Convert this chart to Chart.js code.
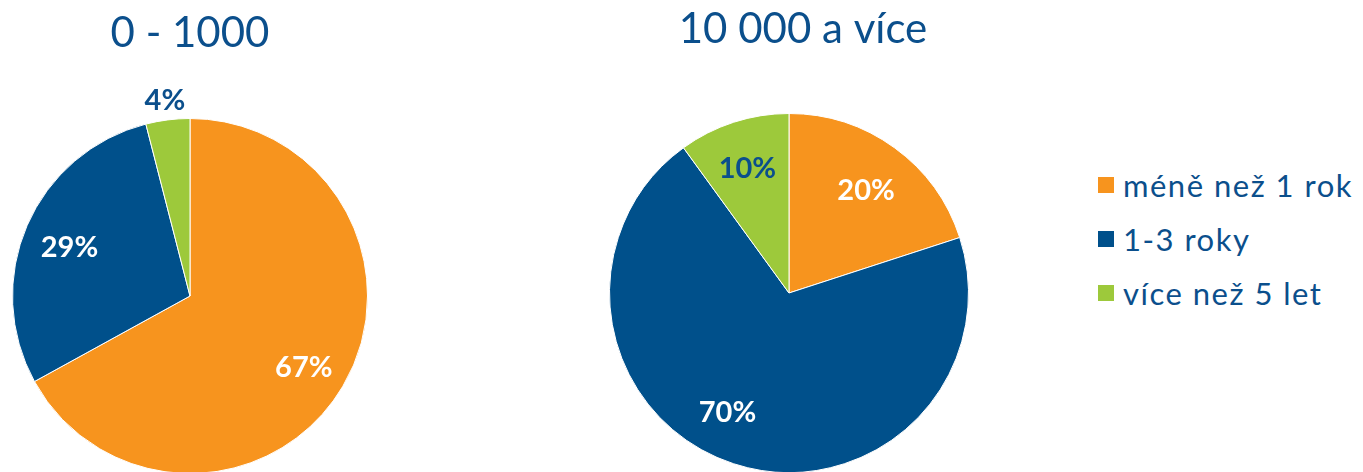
<!DOCTYPE html>
<html>
<head>
<meta charset="utf-8">
<script src="https://cdn.jsdelivr.net/npm/chart.js@4"></script>
<style>
  html, body { margin: 0; padding: 0; width: 1363px; height: 472px; overflow: hidden; background: #fff; }
  .box { position: absolute; top: 0; }
  #legend { position: absolute; left: 1098px; top: 158px; font-family: 'Lato', 'DejaVu Sans', sans-serif; font-size: 31px; letter-spacing: 1.5px; color: #0b4f8c; }
  #legend .item { display: flex; align-items: center; height: 54px; white-space: nowrap; }
  #legend .sw { width: 16px; height: 16px; margin-right: 9px; flex: none; }
</style>
</head>
<body>
<div class="box" style="left:0;width:380px;height:480px;"><canvas id="c1"></canvas></div>
<div class="box" style="left:560px;width:460px;height:480px;"><canvas id="c2"></canvas></div>
<div id="legend"></div>
<script>
const categories = ['méně než 1 rok', '1-3 roky', 'více než 5 let'];
const titles = ['0 - 1000', '10 000 a více'];
const valuesSmall = [67, 29, 4];
const valuesLarge = [20, 70, 10];
const colors = ['#F7941E', '#00508B', '#9DC93B'];
const labelColorsSmall = ['#ffffff', '#ffffff', '#0b4f8c'];
const labelColorsLarge = ['#ffffff', '#ffffff', '#0b4f8c'];
const labelRadiusSmall = [0.745, 0.74, 1.13];
const labelRadiusLarge = [0.73, 0.73, 0.75];
const labelAngleShiftLarge = [0, 10, 0];
const labelAngleShiftSmall = [0, 0, 0];

const FONT = "'Lato', 'DejaVu Sans', sans-serif";

function makePlugin(title, titlePos, labelColors, labelRadius, angleShift) {
  return {
    id: 'custom',
    afterDatasetsDraw(chart) {
      const ctx = chart.ctx;
      const meta = chart.getDatasetMeta(0);
      const ds = chart.data.datasets[0];
      ctx.save();
      ctx.textAlign = 'center';
      ctx.textBaseline = 'middle';
      ctx.font = "bold 29px " + FONT;
      meta.data.forEach((arc, i) => {
        const p = arc.getProps(['x', 'y', 'startAngle', 'endAngle', 'outerRadius'], true);
        const mid = (p.startAngle + p.endAngle) / 2 + angleShift[i] * Math.PI / 180;
        const r = p.outerRadius * labelRadius[i];
        ctx.fillStyle = labelColors[i];
        ctx.fillText(ds.data[i] + '%', p.x + Math.cos(mid) * r, p.y + Math.sin(mid) * r + 4);
      });
      ctx.font = "42px " + FONT;
      ctx.fillStyle = '#0b4f8c';
      ctx.textBaseline = 'alphabetic';
      const ca = chart.chartArea;
      ctx.fillText(title, (ca.left + ca.right) / 2 + titlePos.dx, titlePos.y);
      ctx.restore();
    }
  };
}

function makeChart(id, values, title, titlePos, labelColors, labelRadius, angleShift, padding) {
  return new Chart(document.getElementById(id), {
    type: 'pie',
    data: {
      labels: categories,
      datasets: [{
        data: values,
        backgroundColor: colors,
        borderColor: '#ffffff',
        borderWidth: 1
      }]
    },
    options: {
      responsive: true,
      maintainAspectRatio: false,
      animation: false,
      layout: { padding: padding },
      plugins: { legend: { display: false }, tooltip: { enabled: false }, title: { display: false } }
    },
    plugins: [makePlugin(title, titlePos, labelColors, labelRadius, angleShift)]
  });
}

makeChart('c1', valuesSmall, titles[0], { dx: 0, y: 47 }, labelColorsSmall, labelRadiusSmall, labelAngleShiftSmall,
  { left: 12, right: 12, top: 118, bottom: 6 });
makeChart('c2', valuesLarge, titles[1], { dx: 14, y: 43 }, labelColorsLarge, labelRadiusLarge, labelAngleShiftLarge,
  { left: 49, right: 51, top: 113, bottom: 7 });

const legend = document.getElementById('legend');
categories.forEach((c, i) => {
  const item = document.createElement('div');
  item.className = 'item';
  const sw = document.createElement('span');
  sw.className = 'sw';
  sw.style.background = colors[i];
  const t = document.createElement('span');
  t.textContent = c;
  item.appendChild(sw);
  item.appendChild(t);
  legend.appendChild(item);
});
</script>
</body>
</html>
